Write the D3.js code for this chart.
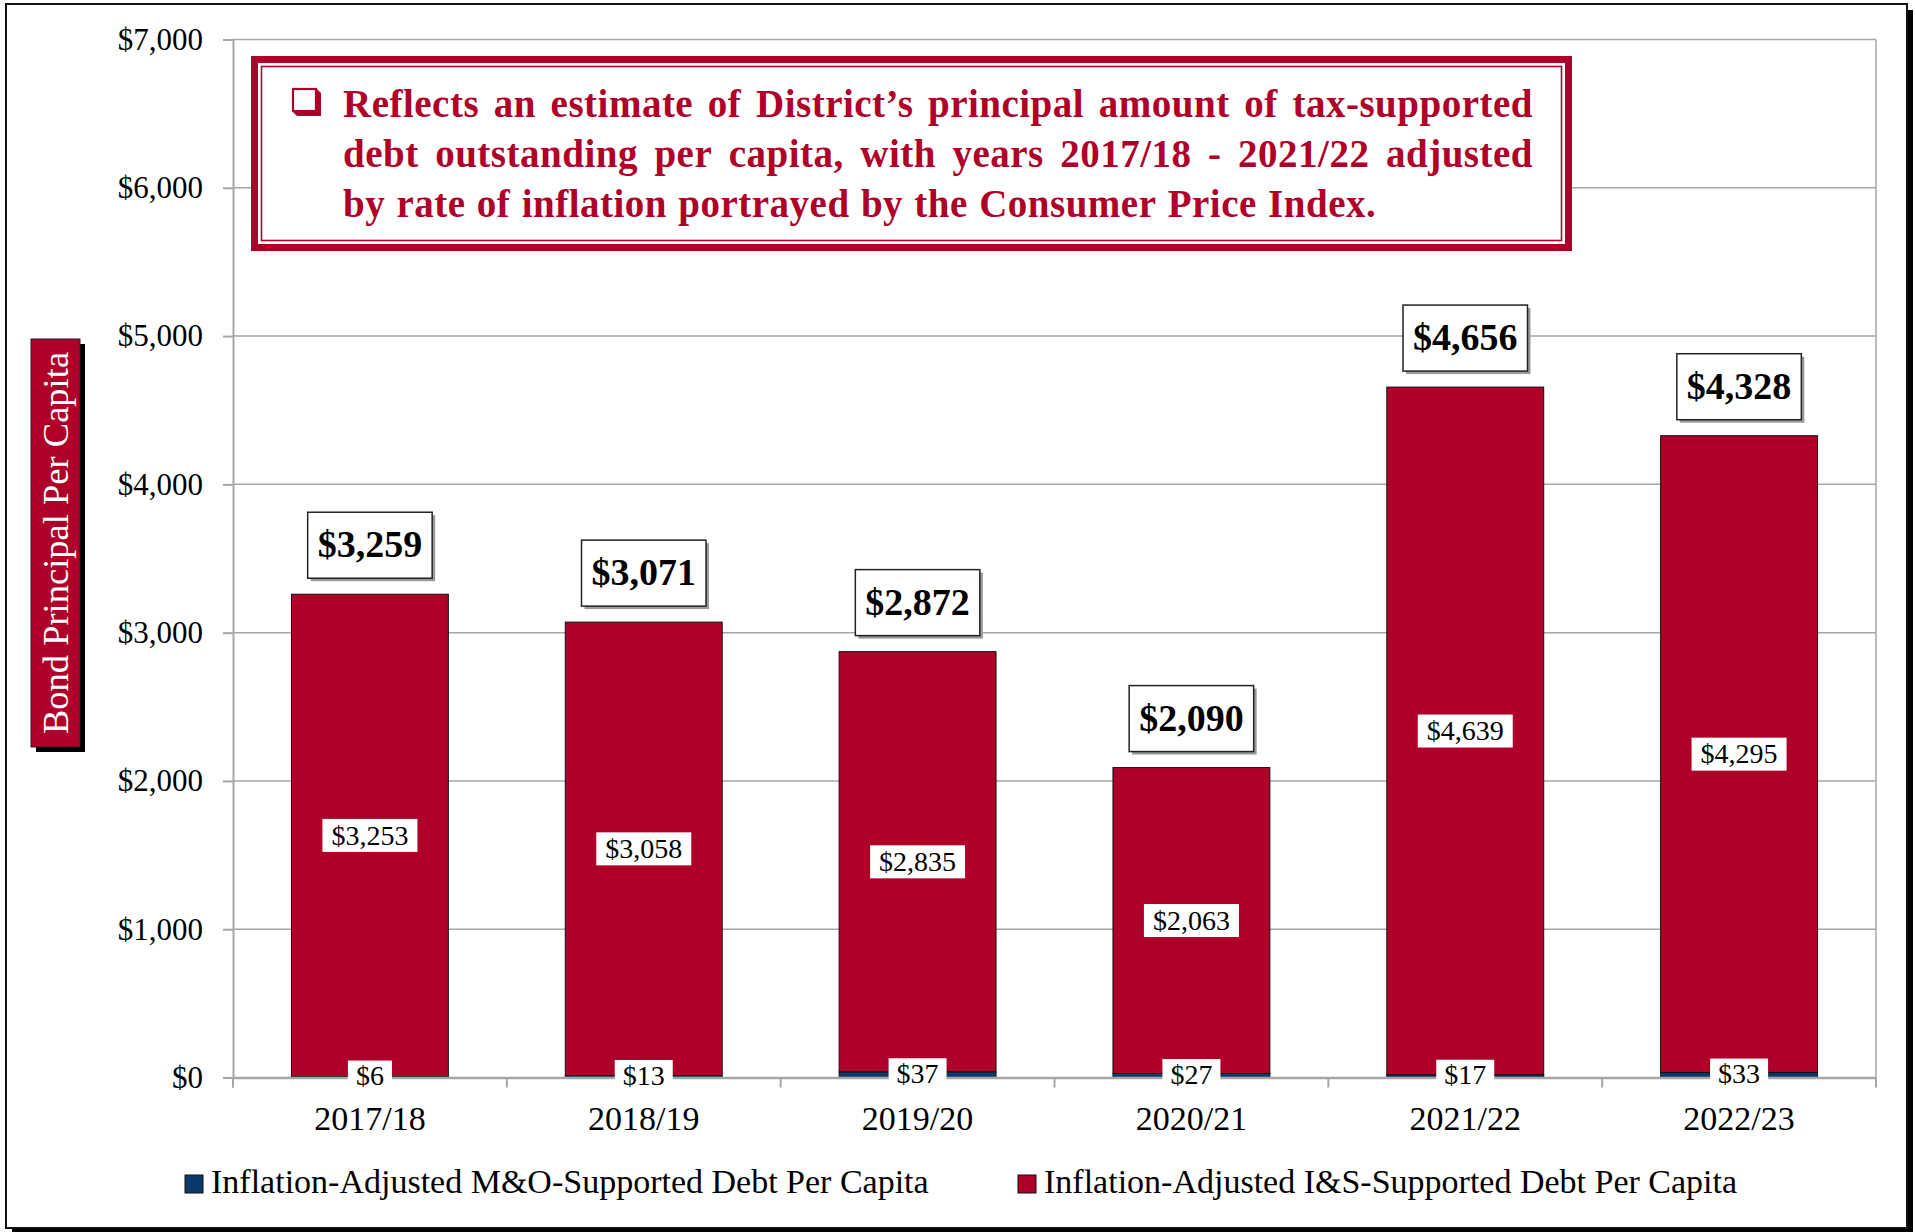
<!DOCTYPE html>
<html><head><meta charset="utf-8">
<script src="https://cdn.jsdelivr.net/npm/d3@7"></script>
<style>body{margin:0;background:#fff}svg{display:block}</style>
</head><body><svg id="chart" width="1915" height="1232"></svg>
<script>
const categories = ["2017/18", "2018/19", "2019/20", "2020/21", "2021/22", "2022/23"];
const moValues = [6, 13, 37, 27, 17, 33];
const isValues = [3253, 3058, 2835, 2063, 4639, 4295];
const totalValues = [3259, 3071, 2872, 2090, 4656, 4328];
const yTickValues = [0, 1000, 2000, 3000, 4000, 5000, 6000, 7000];
const seriesNames = ["Inflation-Adjusted M&O-Supported Debt Per Capita", "Inflation-Adjusted I&S-Supported Debt Per Capita"];
const yAxisTitle = "Bond Principal Per Capita";
const noteLines = [
  "Reflects an estimate of District\u2019s principal amount of tax-supported",
  "debt outstanding per capita, with years 2017/18 - 2021/22 adjusted",
  "by rate of inflation portrayed by the Consumer Price Index."
];

const FONT = "'Liberation Serif','Times New Roman',serif";
const RED = "#AF0029", NAVY = "#0B3A6A", GRID = "#A6A6A6";
const m = {left: 233, right: 1876, top: 39.5, bottom: 1077.5};
const svg = d3.select("#chart");
const fmt = d3.format("$,");

// outer frame with shadow
svg.append("rect").attr("x", 12).attr("y", 10).attr("width", 1901).attr("height", 1222).attr("fill", "#000");
svg.append("rect").attr("x", 6).attr("y", 4).attr("width", 1901).attr("height", 1224)
  .attr("fill", "#fff").attr("stroke", "#111").attr("stroke-width", 2);

const x = d3.scaleBand().domain(categories).range([m.left, m.right]).paddingInner(0.427).paddingOuter(0.2135);
const y = d3.scaleLinear().domain([0, 7000]).range([m.bottom, m.top]);

// gridlines
svg.append("g").selectAll("line").data(yTickValues.filter(d => d > 0)).join("line")
  .attr("x1", m.left).attr("x2", m.right).attr("y1", d => y(d)).attr("y2", d => y(d))
  .attr("stroke", GRID).attr("stroke-width", 1.5);
svg.append("line").attr("x1", m.right).attr("x2", m.right).attr("y1", m.top).attr("y2", m.bottom)
  .attr("stroke", GRID).attr("stroke-width", 1.5);

// y axis
const yAxis = svg.append("g").attr("transform", `translate(${m.left},0)`)
  .call(d3.axisLeft(y).tickValues(yTickValues).tickFormat(fmt).tickSize(10).tickSizeOuter(0).tickPadding(20));
yAxis.select(".domain").attr("stroke", GRID).attr("stroke-width", 2);
yAxis.selectAll(".tick line").attr("stroke", GRID).attr("stroke-width", 2);
yAxis.selectAll("text").attr("font-family", FONT).attr("font-size", 31).attr("fill", "#000");
svg.append("line").attr("x1", m.left).attr("x2", m.left).attr("y1", m.bottom).attr("y2", m.bottom + 10)
  .attr("stroke", GRID).attr("stroke-width", 2);

// bars
const data = categories.map((c, i) => ({cat: c, mo: moValues[i], is: isValues[i], total: totalValues[i]}));
const bars = svg.append("g");
bars.selectAll("rect.is").data(data).join("rect").attr("class", "is")
  .attr("x", d => x(d.cat)).attr("width", x.bandwidth())
  .attr("y", d => y(d.mo + d.is)).attr("height", d => y(d.mo) - y(d.mo + d.is))
  .attr("fill", RED).attr("stroke", "#111").attr("stroke-width", 1);
bars.selectAll("rect.mo").data(data).join("rect").attr("class", "mo")
  .attr("x", d => x(d.cat)).attr("width", x.bandwidth())
  .attr("y", d => y(d.mo)).attr("height", d => y(0) - y(d.mo))
  .attr("fill", NAVY).attr("stroke", "#111").attr("stroke-width", 1);

// x axis
const xAxis = svg.append("g").attr("transform", `translate(0,${m.bottom})`)
  .call(d3.axisBottom(x).tickSize(0).tickSizeOuter(0));
xAxis.select(".domain").attr("stroke", GRID).attr("stroke-width", 2.5);
xAxis.selectAll("text").attr("font-family", FONT).attr("font-size", 34).attr("fill", "#000")
  .attr("y", 52).attr("dy", 0);
const bounds = d3.range(categories.length + 1).map(i => m.left + i * x.step());
svg.append("g").selectAll("line").data(bounds).join("line")
  .attr("x1", d => d).attr("x2", d => d).attr("y1", m.bottom).attr("y2", m.bottom + 10)
  .attr("stroke", GRID).attr("stroke-width", 2);

// segment labels (white boxes)
function segLabel(g, cx, cy, text, size, padX, h) {
  const grp = g.append("g");
  const r = grp.append("rect").attr("fill", "#fff");
  const t = grp.append("text").attr("x", cx).attr("y", cy + size * 0.33).attr("text-anchor", "middle")
    .attr("font-family", FONT).attr("font-size", size).attr("fill", "#000").text(text);
  const tw = t.node().getComputedTextLength();
  r.attr("x", cx - tw / 2 - padX).attr("y", cy - h / 2).attr("width", tw + 2 * padX).attr("height", h);
}
const lbl = svg.append("g");
data.forEach(d => {
  const cx = x(d.cat) + x.bandwidth() / 2;
  segLabel(lbl, cx, y(d.mo + d.is / 2), fmt(d.is), 28, 9, 33);
  segLabel(lbl, cx, y(d.mo / 2) - 1, fmt(d.mo), 28, 8, 31);
});

// total labels
const tot = svg.append("g");
data.forEach(d => {
  const cx = x(d.cat) + x.bandwidth() / 2;
  const bottom = y(d.total) - 16, h = 66;
  const g = tot.append("g");
  const sh = g.append("rect").attr("fill", "#9a9a9a");
  const r = g.append("rect").attr("fill", "#fff").attr("stroke", "#222").attr("stroke-width", 1.5);
  const t = g.append("text").attr("x", cx).attr("y", bottom - 21).attr("text-anchor", "middle")
    .attr("font-family", FONT).attr("font-weight", "bold").attr("font-size", 38).attr("fill", "#000").text(fmt(d.total));
  const tw = t.node().getComputedTextLength();
  const w = tw + 20;
  r.attr("x", cx - w / 2).attr("y", bottom - h).attr("width", w).attr("height", h);
  sh.attr("x", cx - w / 2 + 3).attr("y", bottom - h + 3).attr("width", w).attr("height", h);
});

// y axis title box
svg.append("rect").attr("x", 36).attr("y", 344).attr("width", 49).attr("height", 408).attr("fill", "#000");
svg.append("rect").attr("x", 31).attr("y", 339).attr("width", 49).attr("height", 408)
  .attr("fill", RED).attr("stroke", "#222").attr("stroke-width", 1);
svg.append("text").attr("transform", "translate(56,543) rotate(-90)").attr("text-anchor", "middle")
  .attr("dy", "0.33em").attr("font-family", FONT).attr("font-size", 36.5).attr("fill", "#fff").text(yAxisTitle);

// annotation box
const note = svg.append("g");
note.append("rect").attr("x", 254.5).attr("y", 59.5).attr("width", 1314).attr("height", 188)
  .attr("fill", "#fff").attr("stroke", RED).attr("stroke-width", 7);
note.append("rect").attr("x", 261.5).attr("y", 66.5).attr("width", 1300).attr("height", 174)
  .attr("fill", "none").attr("stroke", RED).attr("stroke-width", 1.6);
note.append("path").attr("d", "M292,111 L316,111 L316,88 L321,93 L321,116 L297,116 Z").attr("fill", RED);
note.append("rect").attr("x", 293).attr("y", 89).attr("width", 23).attr("height", 22)
  .attr("fill", "#fff").attr("stroke", RED).attr("stroke-width", 2.2);

const noteX0 = 343, noteX1 = 1533, noteBase = [117, 167, 217];
let noteSize = 39;
const noteLS = 0.5;
function measure(str, size) {
  const t = note.append("text").attr("font-family", FONT).attr("font-weight", "bold")
    .attr("font-size", size).attr("letter-spacing", noteLS).text(str);
  const w = t.node().getComputedTextLength(); t.remove(); return w;
}
while (noteLines.slice(0, 2).some(l => measure(l, noteSize) > noteX1 - noteX0) && noteSize > 20) noteSize -= 0.5;
noteLines.forEach((line, li) => {
  const words = line.split(" ");
  const ws = words.map(w => measure(w, noteSize));
  const spaceW = measure("a a", noteSize) - measure("aa", noteSize);
  const justify = li < noteLines.length - 1;
  const gap = justify ? (noteX1 - noteX0 - d3.sum(ws)) / (words.length - 1) : spaceW * 1.1;
  let cx = noteX0;
  words.forEach((w, i) => {
    note.append("text").attr("x", cx).attr("y", noteBase[li]).attr("font-family", FONT)
      .attr("font-weight", "bold").attr("font-size", noteSize).attr("letter-spacing", noteLS)
      .attr("fill", RED).text(w);
    cx += ws[i] + gap;
  });
});

// legend
const legend = svg.append("g");
const legItems = [{name: seriesNames[0], color: NAVY, x: 185}, {name: seriesNames[1], color: RED, x: 1018}];
legItems.forEach(it => {
  legend.append("rect").attr("x", it.x).attr("y", 1175).attr("width", 18).attr("height", 18)
    .attr("fill", it.color).attr("stroke", "#111").attr("stroke-width", 1);
  legend.append("text").attr("x", it.x + 26).attr("y", 1193).attr("font-family", FONT).attr("font-size", 34)
    .attr("fill", "#000").text(it.name);
});
</script>
</body></html>
